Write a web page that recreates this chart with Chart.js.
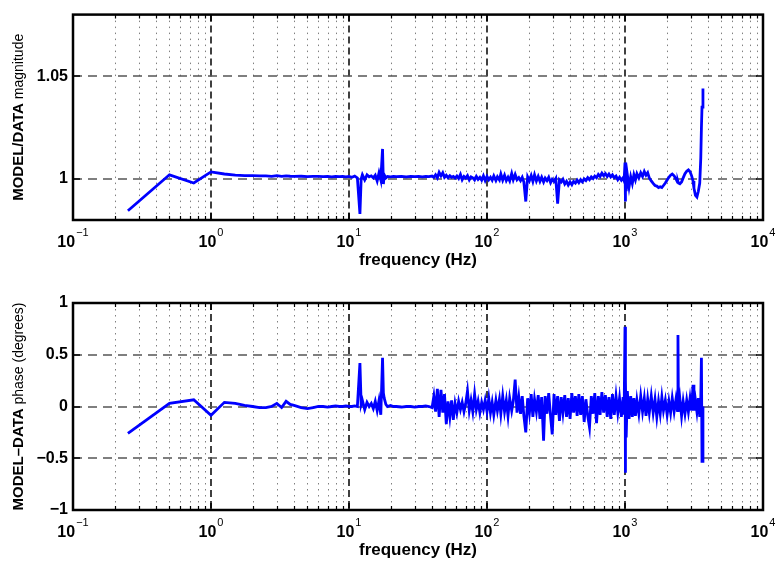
<!DOCTYPE html>
<html><head><meta charset="utf-8">
<script src="https://cdn.jsdelivr.net/npm/chart.js@4.4.0/dist/chart.umd.min.js"></script>
<style>
html,body{margin:0;padding:0;background:#fff;width:780px;height:565px;overflow:hidden}
#top,#bot{position:absolute;left:0;width:780px}
#top{top:0;height:282px}
#bot{top:282px;height:283px}
</style></head><body>
<div id="top"><canvas id="c1"></canvas></div>
<div id="bot"><canvas id="c2"></canvas></div>
<script>
const frequency = [
  0.25, 0.5, 0.75, 1.0, 1.25, 1.5, 1.75, 2.0, 2.25, 2.5,
  2.75, 3.0, 3.25, 3.5, 3.75, 4.0, 4.5, 5, 5.5, 6,
  6.5, 7, 7.5, 8, 8.5, 9, 9.5, 10, 10.5, 11,
  11.5, 12, 12.25, 12.5, 13, 13.5, 14, 14.5, 15, 15.5,
  16, 16.5, 17, 17.5, 17.75, 18, 18.5, 19, 20, 21,
  22, 24, 26, 28, 30, 32, 34, 36, 38, 40,
  41.2, 42.4, 43.7, 45, 46.4, 47.8, 49.2, 50.7, 52.2, 53.8,
  55.4, 57, 58.7, 60.5, 62.3, 64.2, 66.1, 68.1, 70.1, 72.2,
  74.4, 76.6, 78.9, 81.3, 83.7, 86.2, 88.8, 91.5, 94.2, 97,
  100, 103, 106, 109, 112, 116, 119, 123, 126, 130,
  134, 138, 142, 146, 151, 155, 160, 165, 170, 175,
  180, 185, 191, 197, 203, 209, 215, 221, 228, 235,
  242, 249, 257, 264, 272, 280, 289, 297, 306, 315,
  325, 335, 345, 355, 366, 377, 388, 400, 412, 424,
  437, 450, 463, 477, 491, 506, 521, 537, 553, 570,
  587, 604, 622, 641, 660, 680, 700, 721, 743, 765,
  788, 811, 836, 861, 887, 913, 941, 969, 985, 1000,
  1005, 1010, 1020, 1040, 1070, 1100, 1130, 1160, 1190, 1220,
  1260, 1300, 1340, 1380, 1420, 1460, 1500, 1550, 1600, 1650,
  1700, 1750, 1800, 1850, 1900, 1960, 2020, 2080, 2140, 2200,
  2270, 2340, 2400, 2420, 2440, 2500, 2570, 2640, 2720, 2800,
  2880, 2960, 3040, 3110, 3160, 3240, 3320, 3400, 3480, 3540,
  3580, 3614, 3672
];
const magnitude = [
  0.9845, 1.002, 0.998, 1.0034, 1.0024, 1.0018, 1.0016, 1.0016, 1.0015, 1.0015,
  1.0012, 1.0016, 1.0012, 1.0015, 1.0013, 1.0012, 1.0013, 1.0011, 1.0012, 1.0012,
  1.0011, 1.0012, 1.001, 1.0012, 1.0011, 1.0012, 1.001, 1.0012, 1.0008, 1.0014,
  1.0005, 0.983, 1.0, 1.002, 0.9995, 1.002, 1.001, 1.0015, 1.0005, 1.0018,
  0.999, 1.003, 0.9995, 1.0146, 0.9975, 1.002, 1.0005, 1.0012, 1.001, 1.0012,
  1.0011, 1.0012, 1.001, 1.0012, 1.0011, 1.0012, 1.001, 1.0012, 1.0011, 1.0014,
  1.0008, 1.002, 1.0005, 1.0032, 1.0015, 1.003, 1.0008, 1.0018, 1.0006, 1.0016,
  1.0008, 1.0012, 1.0004, 1.0014, 1.0002, 1.0022, 0.9996, 1.0012, 1.0004, 1.0016,
  0.9995, 1.001, 1.0005, 0.9995, 1.0012, 0.9998, 1.0008, 0.9994, 1.0015, 0.9992,
  1.0012, 0.9996, 1.0008, 0.9994, 1.0015, 0.9992, 1.001, 0.9995, 1.0024, 0.9994,
  1.0018, 0.9992, 1.0008, 0.999, 1.0026, 0.9996, 1.0022, 0.9996, 1.0006, 0.9992,
  1.0008, 0.9985, 0.989, 1.001, 0.9992, 1.0016, 0.9988, 1.002, 0.999, 1.0012,
  0.9988, 1.0008, 0.9985, 1.0004, 0.9992, 1.0008, 0.9982, 0.9998, 0.9988, 1.0002,
  0.988, 0.9995, 0.9985, 0.9998, 0.9975, 0.9988, 0.997, 0.9985, 0.9972, 0.9988,
  0.998, 0.9994, 0.9982, 0.9996, 0.9986, 1.0, 0.9992, 1.0006, 0.9996, 1.001,
  1.0002, 1.0014, 1.0006, 1.0022, 1.0012, 1.0028, 1.0016, 1.0026, 1.0012, 1.0024,
  1.001, 1.002, 1.0006, 1.0014, 0.9996, 1.0008, 0.9994, 1.0006, 0.9992, 1.008,
  0.989, 1.004, 0.994, 1.002, 0.996, 1.001, 0.9978, 1.002, 0.9995, 1.0025,
  1.0005, 1.003, 1.0012, 1.0036, 1.0018, 1.003, 1.0005, 0.999, 0.9978, 0.9968,
  0.9965, 0.9958, 0.9962, 0.9958, 0.9968, 0.998, 0.9995, 1.0008, 1.0018, 1.0024,
  1.0015, 1.0, 0.9985, 0.9988, 0.998, 0.9976, 0.9985, 1.0005, 1.0025, 1.0038,
  1.0044, 1.0035, 1.0015, 0.999, 0.9955, 0.992, 0.9912, 0.994, 0.998, 1.01,
  1.025, 1.035, 1.044
];
const phase = [
  -0.26, 0.03, 0.065, -0.085, 0.04, 0.03, 0.01, 0.0, -0.01, -0.01,
  0.0, 0.03, -0.01, 0.05, 0.02, 0.01, -0.01, -0.02, -0.01, 0.0,
  0.0, -0.005, 0.0, 0.005, 0.0, 0.0, 0.005, 0.0, 0.0, 0.005,
  0.0, 0.42, 0.02, 0.06, -0.03, 0.04, 0.0, 0.03, -0.02, 0.05,
  -0.04, 0.06, -0.08, 0.47, 0.13, 0.08, 0.02, 0.0, 0.01, 0.0,
  0.0, -0.005, 0.0, 0.0, -0.005, 0.0, 0.0, 0.005, 0.0, -0.01,
  0.1, -0.05, 0.17, -0.1, 0.16, -0.06, 0.12, -0.17, 0.05, -0.1,
  0.06, -0.13, 0.03, -0.06, 0.05, -0.03, 0.04, -0.05, 0.03, 0.15,
  -0.04, 0.06, -0.05, 0.12, -0.03, 0.05, -0.06, 0.04, -0.03, 0.06,
  -0.05, 0.08, -0.06, 0.04, -0.08, 0.06, -0.04, 0.07, -0.07, 0.1,
  -0.05, 0.06, -0.09, 0.08, -0.04, 0.05, 0.26, -0.06, 0.09, -0.07,
  0.1, -0.09, -0.25, 0.08, -0.06, 0.12, -0.1, 0.07, -0.05, 0.11,
  -0.12, 0.09, -0.33, 0.1, -0.07, 0.13, -0.1, -0.27, 0.12, -0.08,
  0.1, -0.14, 0.09, -0.06, 0.11, -0.1, 0.08, -0.12, 0.13, -0.06,
  0.1, -0.09, 0.12, -0.08, 0.1, -0.15, 0.07, -0.09, -0.2, 0.1,
  -0.07, 0.13, -0.16, 0.1, -0.08, 0.14, -0.06, 0.11, -0.1, 0.09,
  -0.12, 0.12, -0.08, 0.1, -0.06, 0.08, -0.1, 0.09, -0.08, 0.77,
  -0.64, 0.25, -0.3, 0.15, -0.12, 0.1, -0.1, 0.08, -0.09, 0.06,
  -0.07, 0.1, -0.05, 0.08, -0.09, 0.07, -0.06, 0.1, -0.06, 0.07,
  -0.1, 0.05, -0.07, 0.09, -0.04, 0.06, -0.08, 0.05, -0.06, 0.08,
  -0.05, 0.07, -0.04, 0.69, -0.05, 0.07, -0.09, 0.05, -0.07, 0.06,
  -0.05, 0.08, -0.04, 0.21, -0.04, 0.06, -0.05, 0.08, -0.1, 0.06,
  0.47, -0.53, 0.0
];
const xDecades = [0.1, 1, 10, 100, 1000, 10000];
const xTickLabels = [['10','−1'], ['10','0'], ['10','1'], ['10','2'], ['10','3'], ['10','4']];
const magTicks = [1, 1.05];
const phaseTicks = [-1, -0.5, 0, 0.5, 1];
const xTitle = 'frequency (Hz)';
const magTitle = ['MODEL/DATA', ' magnitude'];
const phaseTitle = ['MODEL\u2013DATA', ' phase (degrees)'];

const FONT = 'Liberation Sans, Arial, Helvetica, sans-serif';

function makeAxesPlugin(yTicks, yTitleParts) {
  return {
    id: 'matlabAxes',
    beforeDatasetsDraw(chart) {
      const {ctx, chartArea: a, scales: {x, y}} = chart;
      ctx.save();
      ctx.strokeStyle = '#808080';
      ctx.lineWidth = 1;
      ctx.setLineDash([1.5, 4.5]);
      for (let i = 0; i < xDecades.length - 1; i++) {
        for (let k = 2; k <= 9; k++) {
          const px = Math.round(x.getPixelForValue(k * xDecades[i])) + 0.5;
          ctx.beginPath(); ctx.moveTo(px, a.top); ctx.lineTo(px, a.bottom); ctx.stroke();
        }
      }
      ctx.strokeStyle = '#111';
      ctx.lineWidth = 1.6;
      ctx.setLineDash([7, 4]);
      for (let i = 1; i < xDecades.length - 1; i++) {
        const px = Math.round(x.getPixelForValue(xDecades[i]));
        ctx.beginPath(); ctx.moveTo(px, a.top); ctx.lineTo(px, a.bottom); ctx.stroke();
      }
      ctx.strokeStyle = '#555';
      ctx.lineWidth = 1.6;
      ctx.setLineDash([9, 6]);
      for (const v of yTicks) {
        const py = Math.round(y.getPixelForValue(v));
        if (py <= a.top + 1 || py >= a.bottom - 1) continue;
        ctx.beginPath(); ctx.moveTo(a.left, py); ctx.lineTo(a.right, py); ctx.stroke();
      }
      ctx.restore();
    },
    afterDatasetsDraw(chart) {
      const {ctx, chartArea: a, scales: {x, y}} = chart;
      ctx.save();
      ctx.setLineDash([]);
      ctx.strokeStyle = '#000';
      ctx.lineWidth = 1.2;
      for (let i = 0; i < xDecades.length - 1; i++) {
        for (let k = 2; k <= 9; k++) {
          const px = Math.round(x.getPixelForValue(k * xDecades[i])) + 0.5;
          ctx.beginPath();
          ctx.moveTo(px, a.bottom); ctx.lineTo(px, a.bottom - 4);
          ctx.moveTo(px, a.top); ctx.lineTo(px, a.top + 4);
          ctx.stroke();
        }
      }
      ctx.lineWidth = 1.6;
      for (const d of xDecades) {
        const px = Math.round(x.getPixelForValue(d));
        ctx.beginPath();
        ctx.moveTo(px, a.bottom); ctx.lineTo(px, a.bottom - 7);
        ctx.moveTo(px, a.top); ctx.lineTo(px, a.top + 7);
        ctx.stroke();
      }
      for (const v of yTicks) {
        const py = Math.round(y.getPixelForValue(v));
        ctx.beginPath();
        ctx.moveTo(a.left, py); ctx.lineTo(a.left + 7, py);
        ctx.moveTo(a.right, py); ctx.lineTo(a.right - 7, py);
        ctx.stroke();
      }
      ctx.lineWidth = 2.5;
      ctx.strokeRect(a.left, a.top, a.right - a.left, a.bottom - a.top);

      ctx.fillStyle = '#000';
      ctx.textBaseline = 'middle';
      ctx.textAlign = 'left';
      const baseFont = 'bold 16px ' + FONT;
      const supFont = '11px ' + FONT;
      xDecades.forEach((d, i) => {
        const px = x.getPixelForValue(d);
        const [b, s] = xTickLabels[i];
        ctx.font = baseFont; const wb = ctx.measureText(b).width;
        ctx.font = supFont; const ws = ctx.measureText(s).width;
        const start = px - (wb + ws + 1) / 2;
        ctx.font = baseFont; ctx.fillText(b, start, a.bottom + 23);
        ctx.font = supFont; ctx.fillText(s, start + wb + 1, a.bottom + 13);
      });
      ctx.font = 'bold 17px ' + FONT;
      ctx.textAlign = 'center';
      ctx.fillText(xTitle, (a.left + a.right) / 2, a.bottom + 40);
      const f1 = 'bold 15px ' + FONT, f2 = '14px ' + FONT;
      ctx.font = f1; const w1 = ctx.measureText(yTitleParts[0]).width;
      ctx.font = f2; const w2 = ctx.measureText(yTitleParts[1]).width;
      ctx.translate(19, (a.top + a.bottom) / 2);
      ctx.rotate(-Math.PI / 2);
      ctx.textAlign = 'left';
      ctx.font = f1; ctx.fillText(yTitleParts[0], -(w1 + w2) / 2, 0);
      ctx.font = f2; ctx.fillText(yTitleParts[1], -(w1 + w2) / 2 + w1, 0);
      ctx.restore();
    }
  };
}

function makeChart(id, values, yMin, yMax, yTicks, yTitleParts, padTop, xAxisH) {
  return new Chart(document.getElementById(id), {
    type: 'line',
    data: {
      datasets: [{
        data: frequency.map((f, i) => ({x: f, y: values[i]})),
        borderColor: '#0000ff',
        borderWidth: 2.8,
        pointRadius: 0,
        tension: 0,
        fill: false
      }]
    },
    options: {
      responsive: true,
      maintainAspectRatio: false,
      animation: false,
      devicePixelRatio: 1,
      layout: {padding: {top: padTop, right: 17, left: 0, bottom: 0}},
      plugins: {legend: {display: false}, tooltip: {enabled: false}},
      scales: {
        x: {
          type: 'logarithmic', min: 0.1, max: 10000,
          ticks: {display: false},
          grid: {display: false, drawTicks: false},
          border: {display: false},
          afterFit: s => { s.height = xAxisH; }
        },
        y: {
          type: 'linear', min: yMin, max: yMax,
          afterBuildTicks: s => { s.ticks = yTicks.map(v => ({value: v})); },
          ticks: {
            font: {family: FONT, weight: 'bold', size: 16},
            color: '#000', padding: 5,
            callback: v => String(v).replace('-', '\u2212')
          },
          grid: {display: false, drawTicks: false},
          border: {display: false},
          afterFit: s => { s.width = 73; }
        }
      }
    },
    plugins: [makeAxesPlugin(yTicks, yTitleParts)]
  });
}

makeChart('c1', magnitude, 0.98, 1.08, magTicks, magTitle, 14, 62);
makeChart('c2', phase, -1, 1, phaseTicks, phaseTitle, 21, 55);
</script>
</body></html>
